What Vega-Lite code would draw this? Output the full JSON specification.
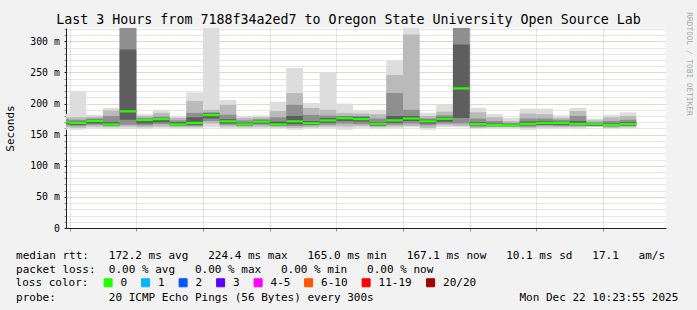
{
  "$schema": "https://vega.github.io/schema/vega-lite/v6.json",
  "width": 600,
  "height": 200,
  "autosize": {"type": "none"},
  "padding": {"left": 66, "top": 28, "right": 31, "bottom": 82},
  "background": "#f2f2f2",
  "config": {"view": {"fill": "#ffffff", "stroke": null}, "font": "DejaVu Sans Mono"},
  "title": {
    "text": "Last 3 Hours from 7188f34a2ed7 to Oregon State University Open Source Lab",
    "font": "DejaVu Sans Mono", "fontSize": 13.3, "fontWeight": "normal", "color": "#000000",
    "anchor": "middle", "frame": "group", "dx": -17.5, "offset": -14
  },
  "data": {"values": [
    {"start": "2025-12-22T07:20:00Z", "end": "2025-12-22T07:25:00Z", "loss": "0", "med": 170, "b1lo": 158, "b1hi": 183, "b2lo": 162, "b2hi": 178, "b3lo": 165, "b3hi": 175, "b4lo": 167, "b4hi": 172},
    {"start": "2025-12-22T07:25:00Z", "end": "2025-12-22T07:30:00Z", "loss": "0", "med": 169, "b1lo": 158, "b1hi": 220, "b2lo": 161, "b2hi": 178, "b3lo": 164, "b3hi": 174, "b4lo": 166, "b4hi": 171},
    {"start": "2025-12-22T07:30:00Z", "end": "2025-12-22T07:35:00Z", "loss": "0", "med": 172, "b1lo": 160, "b1hi": 182, "b2lo": 163, "b2hi": 179, "b3lo": 166, "b3hi": 176, "b4lo": 168, "b4hi": 174},
    {"start": "2025-12-22T07:35:00Z", "end": "2025-12-22T07:40:00Z", "loss": "0", "med": 166.5, "b1lo": 159, "b1hi": 193, "b2lo": 162, "b2hi": 189, "b3lo": 164, "b3hi": 180, "b4lo": 165, "b4hi": 170},
    {"start": "2025-12-22T07:40:00Z", "end": "2025-12-22T07:45:00Z", "loss": "0", "med": 187.5, "b1lo": 159, "b1hi": 330, "b2lo": 163, "b2hi": 330, "b3lo": 166, "b3hi": 330, "b4lo": 174, "b4hi": 287},
    {"start": "2025-12-22T07:45:00Z", "end": "2025-12-22T07:50:00Z", "loss": "0", "med": 173.5, "b1lo": 159, "b1hi": 183, "b2lo": 162, "b2hi": 180, "b3lo": 165, "b3hi": 177, "b4lo": 168, "b4hi": 175},
    {"start": "2025-12-22T07:50:00Z", "end": "2025-12-22T07:55:00Z", "loss": "0", "med": 175, "b1lo": 161, "b1hi": 190, "b2lo": 163, "b2hi": 185, "b3lo": 167, "b3hi": 179, "b4lo": 170, "b4hi": 177},
    {"start": "2025-12-22T07:55:00Z", "end": "2025-12-22T08:00:00Z", "loss": "0", "med": 166.5, "b1lo": 160, "b1hi": 180, "b2lo": 162, "b2hi": 177, "b3lo": 164, "b3hi": 173, "b4lo": 165, "b4hi": 170},
    {"start": "2025-12-22T08:00:00Z", "end": "2025-12-22T08:05:00Z", "loss": "0", "med": 169, "b1lo": 160, "b1hi": 218, "b2lo": 162, "b2hi": 204, "b3lo": 164, "b3hi": 185, "b4lo": 166, "b4hi": 178},
    {"start": "2025-12-22T08:05:00Z", "end": "2025-12-22T08:10:00Z", "loss": "0", "med": 181.5, "b1lo": 162, "b1hi": 330, "b2lo": 168, "b2hi": 190, "b3lo": 172, "b3hi": 186, "b4lo": 176, "b4hi": 184},
    {"start": "2025-12-22T08:10:00Z", "end": "2025-12-22T08:15:00Z", "loss": "0", "med": 171.5, "b1lo": 160, "b1hi": 206, "b2lo": 163, "b2hi": 198, "b3lo": 166, "b3hi": 182, "b4lo": 168, "b4hi": 175},
    {"start": "2025-12-22T08:15:00Z", "end": "2025-12-22T08:20:00Z", "loss": "0", "med": 166.5, "b1lo": 160, "b1hi": 180, "b2lo": 162, "b2hi": 177, "b3lo": 164, "b3hi": 173, "b4lo": 165, "b4hi": 169},
    {"start": "2025-12-22T08:20:00Z", "end": "2025-12-22T08:25:00Z", "loss": "0", "med": 171, "b1lo": 160, "b1hi": 181, "b2lo": 163, "b2hi": 178, "b3lo": 166, "b3hi": 175, "b4lo": 168, "b4hi": 173},
    {"start": "2025-12-22T08:25:00Z", "end": "2025-12-22T08:30:00Z", "loss": "0", "med": 166.5, "b1lo": 160, "b1hi": 203, "b2lo": 162, "b2hi": 188, "b3lo": 164, "b3hi": 178, "b4lo": 165, "b4hi": 171},
    {"start": "2025-12-22T08:30:00Z", "end": "2025-12-22T08:35:00Z", "loss": "0", "med": 171.5, "b1lo": 158, "b1hi": 257, "b2lo": 161, "b2hi": 217, "b3lo": 164, "b3hi": 198, "b4lo": 167, "b4hi": 180},
    {"start": "2025-12-22T08:35:00Z", "end": "2025-12-22T08:40:00Z", "loss": "0", "med": 168.5, "b1lo": 160, "b1hi": 201, "b2lo": 162, "b2hi": 193, "b3lo": 165, "b3hi": 182, "b4lo": 166, "b4hi": 172},
    {"start": "2025-12-22T08:40:00Z", "end": "2025-12-22T08:45:00Z", "loss": "0", "med": 173, "b1lo": 160, "b1hi": 250, "b2lo": 163, "b2hi": 190, "b3lo": 166, "b3hi": 181, "b4lo": 169, "b4hi": 177},
    {"start": "2025-12-22T08:45:00Z", "end": "2025-12-22T08:50:00Z", "loss": "0", "med": 176.5, "b1lo": 158, "b1hi": 200, "b2lo": 163, "b2hi": 185, "b3lo": 168, "b3hi": 180, "b4lo": 172, "b4hi": 179},
    {"start": "2025-12-22T08:50:00Z", "end": "2025-12-22T08:55:00Z", "loss": "0", "med": 175, "b1lo": 161, "b1hi": 189, "b2lo": 164, "b2hi": 184, "b3lo": 167, "b3hi": 180, "b4lo": 171, "b4hi": 178},
    {"start": "2025-12-22T08:55:00Z", "end": "2025-12-22T09:00:00Z", "loss": "0", "med": 167.5, "b1lo": 159, "b1hi": 190, "b2lo": 162, "b2hi": 183, "b3lo": 164, "b3hi": 176, "b4lo": 165, "b4hi": 170},
    {"start": "2025-12-22T09:00:00Z", "end": "2025-12-22T09:05:00Z", "loss": "0", "med": 173, "b1lo": 160, "b1hi": 269, "b2lo": 163, "b2hi": 246, "b3lo": 166, "b3hi": 217, "b4lo": 169, "b4hi": 180},
    {"start": "2025-12-22T09:05:00Z", "end": "2025-12-22T09:10:00Z", "loss": "0", "med": 176, "b1lo": 162, "b1hi": 330, "b2lo": 164, "b2hi": 311, "b3lo": 168, "b3hi": 190, "b4lo": 172, "b4hi": 180},
    {"start": "2025-12-22T09:10:00Z", "end": "2025-12-22T09:15:00Z", "loss": "0", "med": 171.5, "b1lo": 158, "b1hi": 185, "b2lo": 161, "b2hi": 180, "b3lo": 165, "b3hi": 176, "b4lo": 168, "b4hi": 174},
    {"start": "2025-12-22T09:15:00Z", "end": "2025-12-22T09:20:00Z", "loss": "0", "med": 175.5, "b1lo": 162, "b1hi": 198, "b2lo": 165, "b2hi": 187, "b3lo": 168, "b3hi": 181, "b4lo": 171, "b4hi": 178},
    {"start": "2025-12-22T09:20:00Z", "end": "2025-12-22T09:25:00Z", "loss": "0", "med": 224.4, "b1lo": 162, "b1hi": 330, "b2lo": 164, "b2hi": 330, "b3lo": 168, "b3hi": 330, "b4lo": 177, "b4hi": 295},
    {"start": "2025-12-22T09:25:00Z", "end": "2025-12-22T09:30:00Z", "loss": "0", "med": 167, "b1lo": 159, "b1hi": 193, "b2lo": 161, "b2hi": 186, "b3lo": 163, "b3hi": 176, "b4lo": 165, "b4hi": 170},
    {"start": "2025-12-22T09:30:00Z", "end": "2025-12-22T09:35:00Z", "loss": "0", "med": 165.6, "b1lo": 160, "b1hi": 183, "b2lo": 162, "b2hi": 178, "b3lo": 163, "b3hi": 172, "b4lo": 164, "b4hi": 168},
    {"start": "2025-12-22T09:35:00Z", "end": "2025-12-22T09:40:00Z", "loss": "0", "med": 165, "b1lo": 160, "b1hi": 177, "b2lo": 162, "b2hi": 172, "b3lo": 163, "b3hi": 169, "b4lo": 164, "b4hi": 167},
    {"start": "2025-12-22T09:40:00Z", "end": "2025-12-22T09:45:00Z", "loss": "0", "med": 167.5, "b1lo": 158, "b1hi": 192, "b2lo": 161, "b2hi": 184, "b3lo": 163, "b3hi": 176, "b4lo": 165, "b4hi": 171},
    {"start": "2025-12-22T09:45:00Z", "end": "2025-12-22T09:50:00Z", "loss": "0", "med": 169, "b1lo": 159, "b1hi": 192, "b2lo": 162, "b2hi": 183, "b3lo": 165, "b3hi": 176, "b4lo": 166, "b4hi": 172},
    {"start": "2025-12-22T09:50:00Z", "end": "2025-12-22T09:55:00Z", "loss": "0", "med": 169, "b1lo": 160, "b1hi": 181, "b2lo": 162, "b2hi": 177, "b3lo": 164, "b3hi": 174, "b4lo": 166, "b4hi": 171},
    {"start": "2025-12-22T09:55:00Z", "end": "2025-12-22T10:00:00Z", "loss": "0", "med": 167.5, "b1lo": 159, "b1hi": 193, "b2lo": 162, "b2hi": 188, "b3lo": 164, "b3hi": 180, "b4lo": 166, "b4hi": 172},
    {"start": "2025-12-22T10:00:00Z", "end": "2025-12-22T10:05:00Z", "loss": "0", "med": 167.5, "b1lo": 162, "b1hi": 176, "b2lo": 163, "b2hi": 173, "b3lo": 164, "b3hi": 170, "b4lo": 165, "b4hi": 169},
    {"start": "2025-12-22T10:05:00Z", "end": "2025-12-22T10:10:00Z", "loss": "0", "med": 165.6, "b1lo": 159, "b1hi": 182, "b2lo": 161, "b2hi": 178, "b3lo": 163, "b3hi": 172, "b4lo": 164, "b4hi": 168},
    {"start": "2025-12-22T10:10:00Z", "end": "2025-12-22T10:15:00Z", "loss": "0", "med": 167.1, "b1lo": 160, "b1hi": 186, "b2lo": 162, "b2hi": 180, "b3lo": 164, "b3hi": 174, "b4lo": 165, "b4hi": 170}
  ]},
  "resolve": {"axis": {"y": "independent"}},
  "layer": [
    {
      "mark": {"type": "rect", "color": "#dddddd", "clip": true},
      "encoding": {
        "x": {
          "field": "start", "type": "temporal",
          "scale": {"type": "utc", "domain": [1766388235000, 1766399035000], "nice": false},
          "axis": {
            "values": [1766388300000, 1766388600000, 1766388900000, 1766389200000, 1766389500000, 1766389800000, 1766390100000, 1766390400000, 1766390700000, 1766391000000, 1766391300000, 1766391600000, 1766391900000, 1766392200000, 1766392500000, 1766392800000, 1766393100000, 1766393400000, 1766393700000, 1766394000000, 1766394300000, 1766394600000, 1766394900000, 1766395200000, 1766395500000, 1766395800000, 1766396100000, 1766396400000, 1766396700000, 1766397000000, 1766397300000, 1766397600000, 1766397900000, 1766398200000, 1766398500000, 1766398800000],
            "labelExpr": "utcminutes(datum.value) % 20 == 0 ? utcFormat(datum.value, '%H:%M') : ''",
            "labelOverlap": false, "labelFlush": false, "labelBound": false,
            "labelFont": "DejaVu Sans Mono", "labelFontSize": 9.8, "labelColor": "#000000", "labelPadding": 2,
            "tickSize": 3,
            "tickColor": {"condition": {"test": "utcminutes(datum.value) % 20 == 0", "value": "#1f1f1f"}, "value": "#8f8f8f"},
            "domainColor": "#1f1f1f",
            "grid": true, "gridDash": [1, 1],
            "gridColor": {"condition": {"test": "utcminutes(datum.value) % 20 == 0", "value": "#de4f4f"}, "value": "#8f8f8f"},
            "gridOpacity": {"condition": {"test": "utcminutes(datum.value) % 20 == 0", "value": 0.55}, "value": 0.45},
            "title": [
              "median rtt:\u00a0\u00a0\u00a0172.2 ms avg\u00a0\u00a0\u00a0224.4 ms max\u00a0\u00a0\u00a0165.0 ms min\u00a0\u00a0\u00a0167.1 ms now\u00a0\u00a0\u00a010.1 ms sd\u00a0\u00a0\u00a017.1\u00a0\u00a0\u00a0am/s",
              "packet loss:\u00a0\u00a00.00 % avg\u00a0\u00a0\u00a00.00 % max\u00a0\u00a0\u00a00.00 % min\u00a0\u00a0\u00a00.00 % now",
              "\u200b",
              "probe:\u00a0\u00a0\u00a0\u00a0\u00a0\u00a0\u00a0\u00a020 ICMP Echo Pings (56 Bytes) every 300s\u00a0\u00a0\u00a0\u00a0\u00a0\u00a0\u00a0\u00a0\u00a0\u00a0\u00a0\u00a0\u00a0\u00a0\u00a0\u00a0\u00a0\u00a0\u00a0\u00a0\u00a0\u00a0Mon Dec 22 10:23:55 2025"
            ],
            "titleFont": "DejaVu Sans Mono", "titleFontSize": 11, "titleFontWeight": "normal", "titleColor": "#000000",
            "titleAlign": "left", "titleAnchor": "start", "titleBaseline": "top",
            "titleX": -50.4, "titleY": 21.6, "titleLineHeight": 14
          }
        },
        "x2": {"field": "end"},
        "y": {
          "field": "b1lo", "type": "quantitative",
          "scale": {"domain": [0, 321.5], "nice": false, "zero": true},
          "axis": {
            "orient": "left",
            "values": [0, 10, 20, 30, 40, 50, 60, 70, 80, 90, 100, 110, 120, 130, 140, 150, 160, 170, 180, 190, 200, 210, 220, 230, 240, 250, 260, 270, 280, 290, 300, 310, 320],
            "labelExpr": "datum.value % 50 == 0 ? (datum.value == 0 ? '0' : datum.value + ' m') : ''",
            "labelOverlap": false, "labelFlush": false, "labelBound": false,
            "labelFont": "DejaVu Sans Mono", "labelFontSize": 9.8, "labelColor": "#000000", "labelPadding": 4.7,
            "tickSize": 2,
            "tickColor": {"condition": {"test": "datum.value % 50 == 0", "value": "#1f1f1f"}, "value": "#8f8f8f"},
            "domainColor": "#1f1f1f",
            "grid": true, "gridDash": [1, 1],
            "gridColor": {"condition": {"test": "datum.value % 50 == 0", "value": "#de4f4f"}, "value": "#8f8f8f"},
            "gridOpacity": {"condition": {"test": "datum.value % 50 == 0", "value": 0.55}, "value": 0.45},
            "title": "Seconds",
            "titleFont": "DejaVu Sans Mono", "titleFontSize": 11, "titleFontWeight": "normal", "titleColor": "#000000",
            "titleAngle": 270, "titleAlign": "center", "titleBaseline": "middle",
            "titleX": -55.5, "titleY": 100
          }
        },
        "y2": {"field": "b1hi"}
      }
    },
    {
      "mark": {"type": "rect", "color": "#bababa", "clip": true},
      "encoding": {
        "x": {"field": "start", "type": "temporal"},
        "x2": {"field": "end"},
        "y": {
          "field": "b2lo", "type": "quantitative",
          "axis": {
            "orient": "right", "labels": false, "ticks": false, "domain": false, "grid": false,
            "title": "RRDTOOL / TOBI OETIKER",
            "titleFont": "DejaVu Sans Mono", "titleFontSize": 7.8, "titleFontWeight": "normal", "titleColor": "#a8a8a8",
            "titleAngle": 90, "titleAlign": "center", "titleBaseline": "middle",
            "titleX": 22, "titleY": 35.5
          }
        },
        "y2": {"field": "b2hi"}
      }
    },
    {
      "mark": {"type": "rect", "color": "#8f8f8f", "clip": true},
      "encoding": {
        "x": {"field": "start", "type": "temporal"},
        "x2": {"field": "end"},
        "y": {"field": "b3lo", "type": "quantitative", "axis": null},
        "y2": {"field": "b3hi"}
      }
    },
    {
      "mark": {"type": "rect", "color": "#5e5e5e", "clip": true},
      "encoding": {
        "x": {"field": "start", "type": "temporal"},
        "x2": {"field": "end"},
        "y": {"field": "b4lo", "type": "quantitative", "axis": null},
        "y2": {"field": "b4hi"}
      }
    },
    {
      "mark": {"type": "rule", "strokeWidth": 2.2, "clip": true},
      "encoding": {
        "x": {"field": "start", "type": "temporal"},
        "x2": {"field": "end"},
        "y": {"field": "med", "type": "quantitative", "axis": null},
        "color": {
          "field": "loss", "type": "nominal",
          "scale": {
            "domain": ["0", "1", "2", "3", "4-5", "6-10", "11-19", "20/20"],
            "range": ["#26ff00", "#00b8ff", "#0059ff", "#5e00ff", "#ff00ff", "#ff5500", "#ff0000", "#a00000"]
          },
          "legend": {
            "title": "loss color:", "orient": "none", "legendX": -50.4, "legendY": 249,
            "direction": "horizontal", "columns": 8, "gridAlign": "each",
            "titleOrient": "left", "titlePadding": 14,
            "titleFont": "DejaVu Sans Mono", "titleFontSize": 11, "titleFontWeight": "normal", "titleColor": "#000000",
            "labelFont": "DejaVu Sans Mono", "labelFontSize": 11, "labelColor": "#000000",
            "labelOffset": 7, "columnPadding": 11.5,
            "symbolType": "square", "symbolSize": 64, "symbolStrokeWidth": 1,
            "encode": {"symbols": {"update": {"fill": {"scale": "color", "field": "value"}, "stroke": {"value": "#000000"}, "strokeWidth": {"value": 1}, "opacity": {"value": 1}}}}
          }
        }
      }
    }
  ]
}
